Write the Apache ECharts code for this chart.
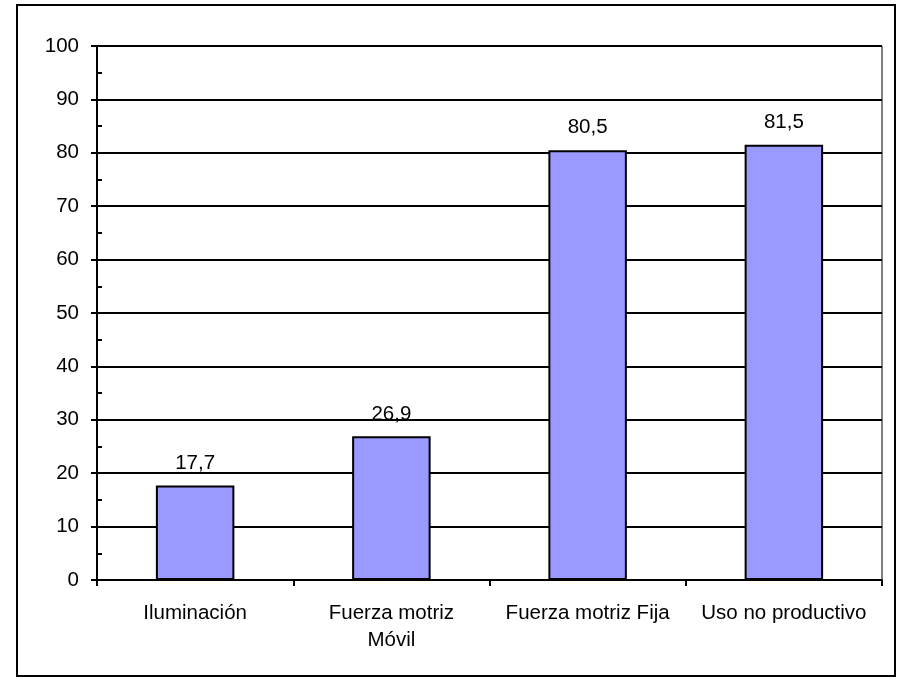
<!DOCTYPE html>
<html>
<head>
<meta charset="utf-8">
<script src="https://cdn.jsdelivr.net/npm/echarts@6/dist/echarts.min.js"></script>
<style>
html,body{margin:0;padding:0;background:#fff;}
#c{width:900px;height:680px;}
</style>
</head>
<body>
<div id="c"></div>
<script>
var categories = ['Iluminación', 'Fuerza motriz\nMóvil', 'Fuerza motriz Fija', 'Uso no productivo'];
var values = [17.7, 26.9, 80.5, 81.5];
var yTicks = [0, 10, 20, 30, 40, 50, 60, 70, 80, 90, 100];

var chart = echarts.init(document.getElementById('c'));
var font = 'Liberation Sans, Arial, sans-serif';
chart.setOption({
  animation: false,
  backgroundColor: '#fff',
  graphic: [{
    type: 'rect',
    shape: {x: 17, y: 5, width: 878, height: 671},
    style: {fill: 'none', stroke: '#000', lineWidth: 2},
    z: 100
  }],
  grid: {left: 97, right: 18, top: 46, bottom: 100, show: true, borderColor: '#000', borderWidth: 1, backgroundColor: 'transparent'},
  xAxis: {
    type: 'category',
    data: categories,
    axisLine: {lineStyle: {color: '#000', width: 2}},
    axisTick: {show: true, alignWithLabel: false, length: 6, lineStyle: {color: '#000', width: 2}},
    axisLabel: {color: '#000', fontFamily: font, fontSize: 20.5, margin: 20, lineHeight: 27, interval: 0}
  },
  yAxis: {
    type: 'value',
    min: yTicks[0],
    max: yTicks[yTicks.length - 1],
    interval: 10,
    axisLine: {show: true, lineStyle: {color: '#000', width: 2}},
    axisTick: {show: true, length: 6, lineStyle: {color: '#000', width: 2}},
    minorTick: {show: true, splitNumber: 2, length: -5, lineStyle: {color: '#000', width: 2}},
    splitLine: {show: true, lineStyle: {color: '#000', width: 2}},
    axisLabel: {color: '#000', fontFamily: font, fontSize: 20.5, margin: 18}
  },
  series: [{
    type: 'bar',
    data: values,
    barWidth: '40%',
    itemStyle: {color: '#9999FF', borderColor: '#000', borderWidth: 2},
    label: {
      show: true, position: 'top', distance: 12, color: '#000', fontFamily: font, fontSize: 20.5,
      formatter: function (p) { return String(p.value.toFixed(1)).replace('.', ','); }
    }
  }]
});
</script>
</body>
</html>
